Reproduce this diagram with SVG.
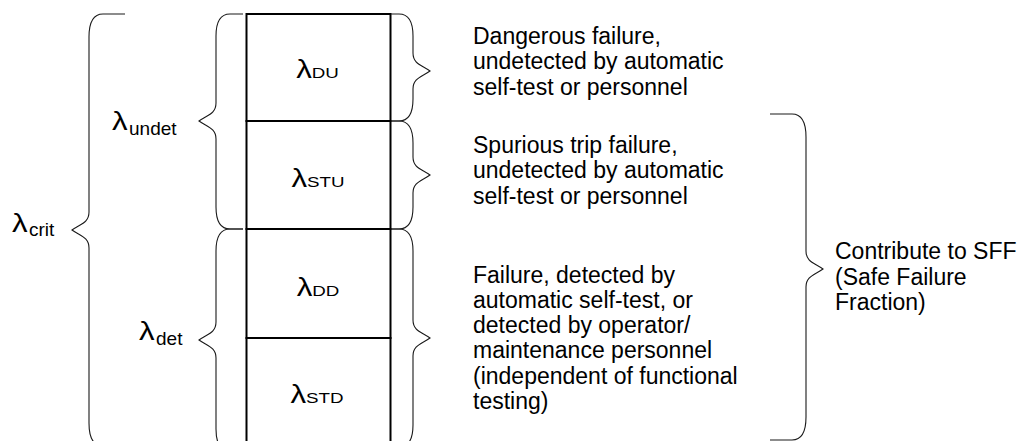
<svg xmlns="http://www.w3.org/2000/svg" width="1019" height="441" viewBox="0 0 1019 441">
  <style>
    .cell { fill: #ffffff; stroke: #000000; stroke-width: 2; }
    .brace { fill: none; stroke: #1a1a1a; stroke-width: 1.1; }
    .lam { font-family: "Liberation Sans", Arial, sans-serif; font-size: 25px; fill: #000000; }
    .sub { font-size: 15px; }
    .lsub { font-family: "Liberation Sans", Arial, sans-serif; font-size: 19px; fill: #000000; }
    .desc { font-family: "Liberation Sans", Arial, sans-serif; font-size: 23px; fill: #000000; }
  </style>
  <rect width="1019" height="441" fill="#ffffff"/>

  <!-- stacked failure-rate cells; the lambda labels are set slightly widened -->
  <g id="cell-du"><rect class="cell" x="246.5" y="14" width="144" height="107"/>
    <text class="lam" transform="translate(317.5,78) scale(1.25,1)" text-anchor="middle">λ<tspan class="sub">DU</tspan></text></g>
  <g id="cell-stu"><rect class="cell" x="246.5" y="121" width="144" height="108"/>
    <text class="lam" transform="translate(318,187) scale(1.25,1)" text-anchor="middle">λ<tspan class="sub">STU</tspan></text></g>
  <g id="cell-dd"><rect class="cell" x="246.5" y="229" width="144" height="109"/>
    <text class="lam" transform="translate(318,296) scale(1.25,1)" text-anchor="middle">λ<tspan class="sub">DD</tspan></text></g>
  <g id="cell-std"><rect class="cell" x="246.5" y="338" width="144" height="112"/>
    <text class="lam" transform="translate(317,403) scale(1.25,1)" text-anchor="middle">λ<tspan class="sub">STD</tspan></text></g>

  <!-- grouping braces -->
  <g id="connectors">
    <!-- left, tip pointing left -->
    <path id="brace-crit" class="brace" d="M125 14 H103 Q89 14 89 37 V212 C89 223 80 224 72 230 C80 236 89 237 89 248 V423 Q89 446 103 446 H125"/>
    <path id="brace-undet" class="brace" d="M243 14 H230 Q216 14 216 36 V103 C216 114 207 115 199 121 C207 127 216 128 216 139 V207 Q216 229 230 229 H243"/>
    <path id="brace-det" class="brace" d="M243 229 H230 Q216 229 216 251 V322 C216 333 207 334 199 340 C207 346 216 347 216 358 V429 Q216 451 230 451 H243"/>
    <!-- right, tip pointing right -->
    <path id="brace-du" class="brace" d="M391 14 H399 Q413 14 413 36 V53 C413 64 422 65 430 71 C422 77 413 78 413 89 V99 Q413 121 399 121 H391"/>
    <path id="brace-stu" class="brace" d="M391 121 H399 Q413 121 413 143 V157 C413 168 422 169 430 175 C422 181 413 182 413 193 V207 Q413 229 399 229 H391"/>
    <path id="brace-det-right" class="brace" d="M391 229 H399 Q413 229 413 251 V320 C413 331 422 332 430 338 C422 344 413 345 413 356 V425 Q413 447 399 447 H391"/>
    <path id="brace-sff" class="brace" d="M770 114 H792 Q806 114 806 137 V251 C806 262 815 263 823 269 C815 275 806 276 806 287 V417 Q806 440 792 440 H770"/>
  </g>

  <!-- brace labels -->
  <g id="label-crit">
    <text class="lam" transform="translate(12,232) scale(1.25,1)">λ</text>
    <text class="lsub" x="29" y="235.5">crit</text></g>
  <g id="label-undet">
    <text class="lam" transform="translate(112,129.5) scale(1.25,1)">λ</text>
    <text class="lsub" x="129" y="134.5">undet</text></g>
  <g id="label-det">
    <text class="lam" transform="translate(139,340) scale(1.25,1)">λ</text>
    <text class="lsub" x="156" y="345">det</text></g>

  <g id="desc-du"><text class="desc">
    <tspan x="473" y="44">Dangerous failure,</tspan>
    <tspan x="473" y="69.3">undetected by automatic</tspan>
    <tspan x="473" y="94.6">self-test or personnel</tspan></text></g>
  <g id="desc-stu"><text class="desc">
    <tspan x="473" y="153">Spurious trip failure,</tspan>
    <tspan x="473" y="178.3">undetected by automatic</tspan>
    <tspan x="473" y="203.6">self-test or personnel</tspan></text></g>
  <g id="desc-det"><text class="desc">
    <tspan x="473" y="282.5">Failure, detected by</tspan>
    <tspan x="473" y="307.8">automatic self-test, or</tspan>
    <tspan x="473" y="333.1">detected by operator/</tspan>
    <tspan x="473" y="358.4">maintenance personnel</tspan>
    <tspan x="473" y="383.7">(independent of functional</tspan>
    <tspan x="473" y="409">testing)</tspan></text></g>
  <g id="desc-sff"><text class="desc">
    <tspan x="835" y="259">Contribute to SFF</tspan>
    <tspan x="835" y="284.5">(Safe Failure</tspan>
    <tspan x="835" y="310">Fraction)</tspan></text></g>
</svg>
